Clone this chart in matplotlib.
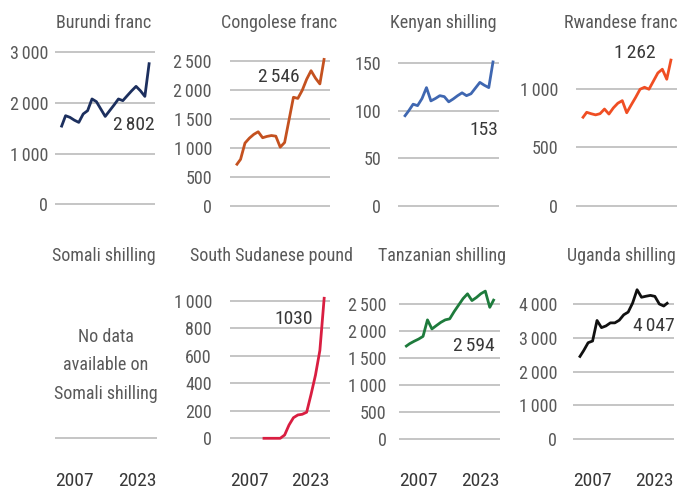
import matplotlib.pyplot as plt
import numpy as np
from matplotlib import font_manager

# pick the narrowest face that is installed
fonts = font_manager.fontManager.ttflist
installed = {f.name for f in fonts}
condensed = {f.name for f in fonts if f.stretch in ('condensed', 'semi-condensed', 'extra-condensed', 'ultra-condensed')}
family, stretch = 'Roboto', 'normal'
for name in ['Liberation Sans Narrow', 'Roboto Condensed', 'Open Sans Condensed', 'Noto Sans Condensed']:
    if name in installed:
        family = name
        break
else:
    for name in ['Noto Sans', 'Roboto', 'Open Sans', 'DejaVu Sans']:
        if name in condensed:
            family, stretch = name, 'condensed'
            break
plt.rcParams['font.family'] = [family, 'DejaVu Sans']
plt.rcParams['font.stretch'] = stretch

# yearly values, 2004-2024
years = list(range(2004, 2025))

burundi = [1518, 1749, 1716, 1660, 1617, 1783, 1848, 2079, 2026, 1880, 1735,
           1848, 1960, 2079, 2046, 2144, 2240, 2328, 2240, 2130, 2802]
congolese = [696, 800, 1080, 1165, 1230, 1275, 1172, 1195, 1210, 1199, 1010,
             1090, 1480, 1870, 1850, 1990, 2180, 2328, 2200, 2100, 2546]
kenyan = [93.7, 100, 107, 105.5, 113, 124.5, 110.5, 113, 116, 115, 109.5,
          112.5, 116, 119, 116, 118, 124, 130, 127, 124.5, 153]
rwandese = [750, 802, 790, 780, 790, 830, 787, 840, 880, 902, 798,
            865, 930, 1000, 1017, 1000, 1070, 1140, 1172, 1086, 1262]
somali = [np.nan] * 21
south_sudanese = [np.nan] * 6 + [0, 0, 0, 0, 0, 24, 97, 150, 170, 175, 190,
                                 320, 460, 640, 1030]
tanzanian = [1706, 1765, 1810, 1850, 1900, 2206, 2038, 2100, 2160, 2206, 2225,
             2360, 2480, 2600, 2688, 2563, 2620, 2690, 2738, 2438, 2594]
uganda = [2412, 2620, 2853, 2903, 3512, 3300, 3350, 3441, 3441, 3520, 3680,
          3760, 4029, 4423, 4200, 4230, 4255, 4226, 4000, 3940, 4047]

sp = '\u2006'
names = ['Burundi franc', 'Congolese franc', 'Kenyan shilling', 'Rwandese franc',
         'Somali shilling', 'South Sudanese pound', 'Tanzanian shilling', 'Uganda shilling']
series = [burundi, congolese, kenyan, rwandese, somali, south_sudanese, tanzanian, uganda]
labels = ['2' + sp + '802', '2' + sp + '546', '153', '1' + sp + '262', None, '1030',
          '2' + sp + '594', '4' + sp + '047']
colors = ['#1c2f5e', '#c4511f', '#3f67b1', '#f04e23', None, '#d91e41', '#1e7b3c', '#111111']
ticks = [[0, 1000, 2000, 3000], [0, 500, 1000, 1500, 2000, 2500], [0, 50, 100, 150],
         [0, 500, 1000], [0], [0, 200, 400, 600, 800, 1000],
         [0, 500, 1000, 1500, 2000, 2500], [0, 1000, 2000, 3000, 4000]]
ylims = [(-112, 3144), (-74, 2771), (-4.5, 169.4), (-37, 1380),
         (-40, 1150), (-41.5, 1153), (-92.6, 2944), (-148, 4711)]

# layout in pixels
W, H = 695, 490
lefts = [55, 230, 398, 576, 55, 230, 399, 573]
widths = [100, 100, 101, 101, 102, 100, 101, 101]
rows = [(45, 210)] * 4 + [(280, 444)] * 4
pads = [5, 13, 12, 13, 0, 13, 9, 11.5]
title_x = [104, 279, 443, 621, 104, 271, 442, 621]
title_y = [23, 23, 23, 23, 256, 256, 256, 256]
lab_pos = [(1.0, 0.515), (0.70, 0.806), (0.99, 0.485), (0.79, 0.95),
           None, (0.83, 0.762), (0.95, 0.60), (1.01, 0.72)]

text_col = '#595959'
num_col = '#383838'
grid_col = '#b5b5b5'

fig = plt.figure(figsize=(6.95, 4.9), dpi=100)

for i in range(8):
    top, bot = rows[i]
    ax = fig.add_axes([lefts[i] / W, 1 - bot / H, widths[i] / W, (bot - top) / H])
    ax.set_xlim(2002.6, 2025.3)
    ax.set_ylim(*ylims[i])
    if colors[i] is not None:
        ax.plot(years, series[i], color=colors[i], lw=2.0, solid_capstyle='butt',
                solid_joinstyle='round')
    ax.set_yticks(ticks[i])
    ax.set_yticklabels([f'{t:,}'.replace(',', sp) for t in ticks[i]])
    ax.set_xticks([])
    ax.yaxis.grid(True, color=grid_col, lw=1.1)
    ax.set_axisbelow(True)
    for s in ax.spines.values():
        s.set_visible(False)
    ax.tick_params(axis='y', length=0, pad=pads[i], labelsize=13, labelcolor=text_col)
    if i == 4:
        ax.set_yticklabels([''])
        ax.text(0.5, 0.48, 'No data\navailable on\nSomali shilling', transform=ax.transAxes,
                ha='center', va='center', fontsize=13, color=text_col, linespacing=1.75)
    if labels[i] is not None:
        ax.text(lab_pos[i][0], lab_pos[i][1], labels[i], transform=ax.transAxes,
                ha='right', va='center', fontsize=14, color=num_col)
    if i >= 4:
        ax.text(0, -0.256, '2007', transform=ax.transAxes, ha='left', va='baseline',
                fontsize=14, color=num_col)
        ax.text(1, -0.256, '2023', transform=ax.transAxes, ha='right', va='baseline',
                fontsize=14, color=num_col)
    fig.text(title_x[i] / W, 1 - title_y[i] / H, names[i], ha='center', va='center',
             fontsize=13, color=text_col)

plt.savefig('out.png', dpi=100)
